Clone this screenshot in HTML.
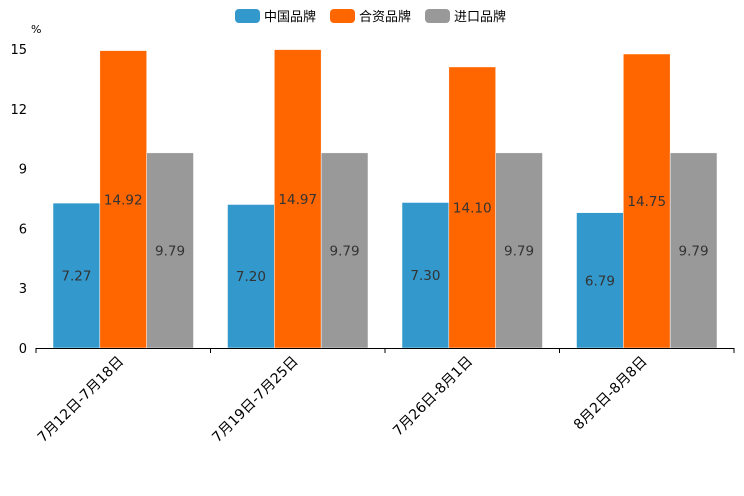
<!DOCTYPE html>
<html><head><meta charset="utf-8">
<style>
html,body{margin:0;padding:0;background:#fff;}
svg{display:block;font-family:"DejaVu Sans","Noto Sans CJK SC",sans-serif;}
</style></head>
<body>
<svg id="chart" width="744" height="496"></svg>
<script>
const categories = ["7月12日-7月18日","7月19日-7月25日","7月26日-8月1日","8月2日-8月8日"];
const seriesNames = ["中国品牌","合资品牌","进口品牌"];
const domestic = [7.27, 7.20, 7.30, 6.79];
const jointVenture = [14.92, 14.97, 14.10, 14.75];
const imported = [9.79, 9.79, 9.79, 9.79];
const yTicks = [0, 3, 6, 9, 12, 15];

const series = [domestic, jointVenture, imported];
const colors = ["#3398cc", "#ff6600", "#999999"];
const NS = "http://www.w3.org/2000/svg";
const svg = document.getElementById("chart");
const x0 = 36, x1 = 734, yBase = 348, yTop = 49, yMax = 15;
const catW = (x1 - x0) / categories.length;
const pad = 17, barW = (catW - 2 * pad) / 3;
function yScale(v){ return yBase - (v / yMax) * (yBase - yTop); }
function xCat(i){ return x0 + i * catW; }
function mk(tag, attrs, parent){
  const e = document.createElementNS(NS, tag);
  for (const k in attrs) e.setAttribute(k, attrs[k]);
  (parent || svg).appendChild(e);
  return e;
}

yTicks.forEach(t => {
  const el = mk("text", {x: 27, y: yScale(t) + 5, "text-anchor": "end", "font-size": 13, fill: "#000"});
  el.textContent = t;
  
  
});
const unit = mk("text", {x: 31, y: 33, "font-size": 11, fill: "#000"});
unit.textContent = "%";



categories.forEach((c, i) => {
  series.forEach((s, j) => {
    const bx = xCat(i) + pad + j * barW;
    const by = yScale(s[i]);
    const r = mk("rect", {x: bx, y: by, width: barW, height: yBase - by, fill: colors[j], stroke: "#fff", "stroke-width": 0.5});
    
    
    const t = mk("text", {x: bx + barW / 2, y: (by + yBase) / 2 + 5, "text-anchor": "middle", "font-size": 13.5, fill: "#333"});
    t.textContent = s[i].toFixed(2);
    
    
  });
  const cx = xCat(i) + catW / 2;
  const lbl = mk("text", {x: cx + 1, y: yBase + 14, "text-anchor": "end", "font-size": 14, fill: "#000", transform: `rotate(-45 ${cx + 1} ${yBase + 14})`});
  lbl.textContent = c;
  
  
});

const ax = mk("line", {x1: x0, y1: yBase + 0.5, x2: x1, y2: yBase + 0.5, stroke: "#000", "stroke-width": 1});


for (let i = 0; i <= categories.length; i++) {
  const tk = mk("line", {x1: xCat(i), y1: yBase, x2: xCat(i), y2: yBase + 5, stroke: "#000", "stroke-width": 1});
  
  
}

const legX = [235, 330, 425];
seriesNames.forEach((n, j) => {
  const g = mk("g", {});
  
  
  mk("rect", {x: legX[j], y: 9, width: 25, height: 14, rx: 4, fill: colors[j]}, g);
  const t = mk("text", {x: legX[j] + 29, y: 21, "font-size": 13, fill: "#000"}, g);
  t.textContent = n;
});
</script>
</body></html>
